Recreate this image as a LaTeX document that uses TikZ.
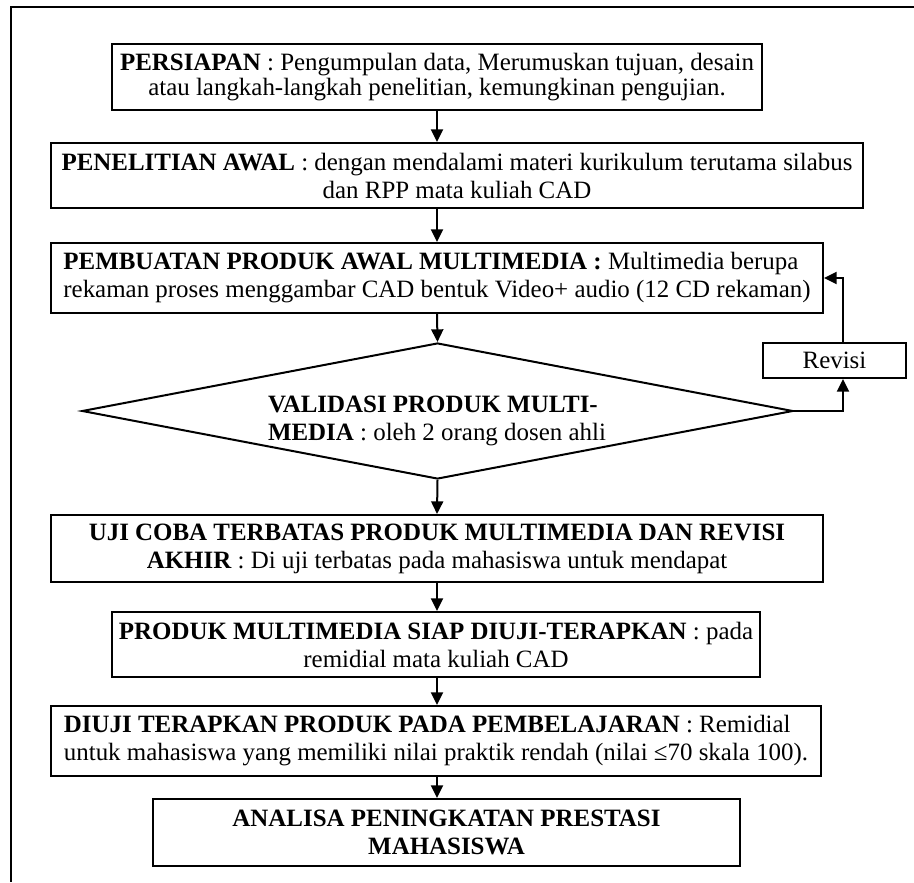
\documentclass[tikz,border=0pt]{standalone}
\usepackage{fontspec}
\setmainfont{Liberation Serif}
\usetikzlibrary{arrows.meta,shapes.geometric}
\begin{document}
\begin{tikzpicture}[x=0.75pt,y=-0.75pt,
  box/.style={draw, line width=1.5pt, inner sep=0pt, align=center,
    font=\fontsize{18.7}{21}\selectfont},
  arr/.style={line width=1.5pt, -{Triangle[length=9.5pt,width=9pt]}},
  frame/.style={line width=1.5pt}]
\useasboundingbox (0,0) rectangle (914,882);
\draw[frame] (914,7) -- (11,7) -- (11,882);

\node[box, minimum width=487.5pt, minimum height=49.5pt,
  font=\fontsize{18.7}{18.5}\selectfont] (b1) at (437,77)
  {\textbf{PERSIAPAN} : Pengumpulan data, Merumuskan tujuan, desain\\
   atau langkah-langkah penelitian, kemungkinan pengujian.};

\node[box, minimum width=609pt, minimum height=48.75pt] (b2) at (457,175.5)
  {\textbf{PENELITIAN AWAL} : dengan mendalami materi kurikulum terutama silabus\\
   dan RPP mata kuliah CAD};

\node[box, minimum width=579pt, minimum height=52.5pt, align=left] (b3) at (437,278)
  {\textbf{PEMBUATAN PRODUK AWAL MULTIMEDIA :} Multimedia berupa\\
   rekaman proses menggambar CAD bentuk Video+ audio (12 CD rekaman)};

\node[diamond, draw, line width=1.5pt, inner sep=0pt,
  minimum width=533.25pt, minimum height=102pt] (val) at (437.5,411) {};
\node[align=left, inner sep=0pt, font=\fontsize{18.7}{21}\selectfont] (valtext) at (437,421)
  {\textbf{VALIDASI PRODUK MULTI-}\\
   \textbf{MEDIA} : oleh 2 orang dosen ahli};

\node[box, minimum width=107.25pt, minimum height=26.25pt] (rev) at (834.5,360.5) {Revisi};

\node[box, minimum width=579pt, minimum height=50.25pt] (b4) at (437,548.5)
  {\textbf{UJI COBA TERBATAS PRODUK MULTIMEDIA DAN REVISI}\\
   \textbf{AKHIR} : Di uji terbatas pada mahasiswa untuk mendapat};

\node[box, minimum width=486pt, minimum height=48.75pt] (b5) at (436,644.5)
  {\textbf{PRODUK MULTIMEDIA SIAP DIUJI-TERAPKAN} : pada\\
   remidial mata kuliah CAD};

\node[box, minimum width=577.5pt, minimum height=52.5pt, align=left] (b6) at (436,741)
  {\textbf{DIUJI TERAPKAN PRODUK PADA PEMBELAJARAN} : Remidial\\
   untuk mahasiswa yang memiliki nilai praktik rendah (nilai ≤70 skala 100).};

\node[box, minimum width=440.25pt, minimum height=50.25pt] (b7) at (446.5,832.5)
  {\textbf{ANALISA PENINGKATAN PRESTASI}\\
   \textbf{MAHASISWA}};

\draw[arr] (b1.south) -- (b1.south |- b2.north);
\draw[arr] (b1.south |- b2.south) -- (b3.north);
\draw[arr] (b3.south) -- (val.north);
\draw[arr] (val.east) -| ([xshift=6.375pt]rev.south);
\draw[arr] ([xshift=6.375pt]rev.north) |- (b3.east);
\draw[arr] (val.south) -- (b4.north);
\draw[arr] (b4.south) -- (b4.south |- b5.north);
\draw[arr] (b4.south |- b5.south) -- (b4.south |- b6.north);
\draw[arr] (b4.south |- b6.south) -- (b4.south |- b7.north);
\end{tikzpicture}
\end{document}
